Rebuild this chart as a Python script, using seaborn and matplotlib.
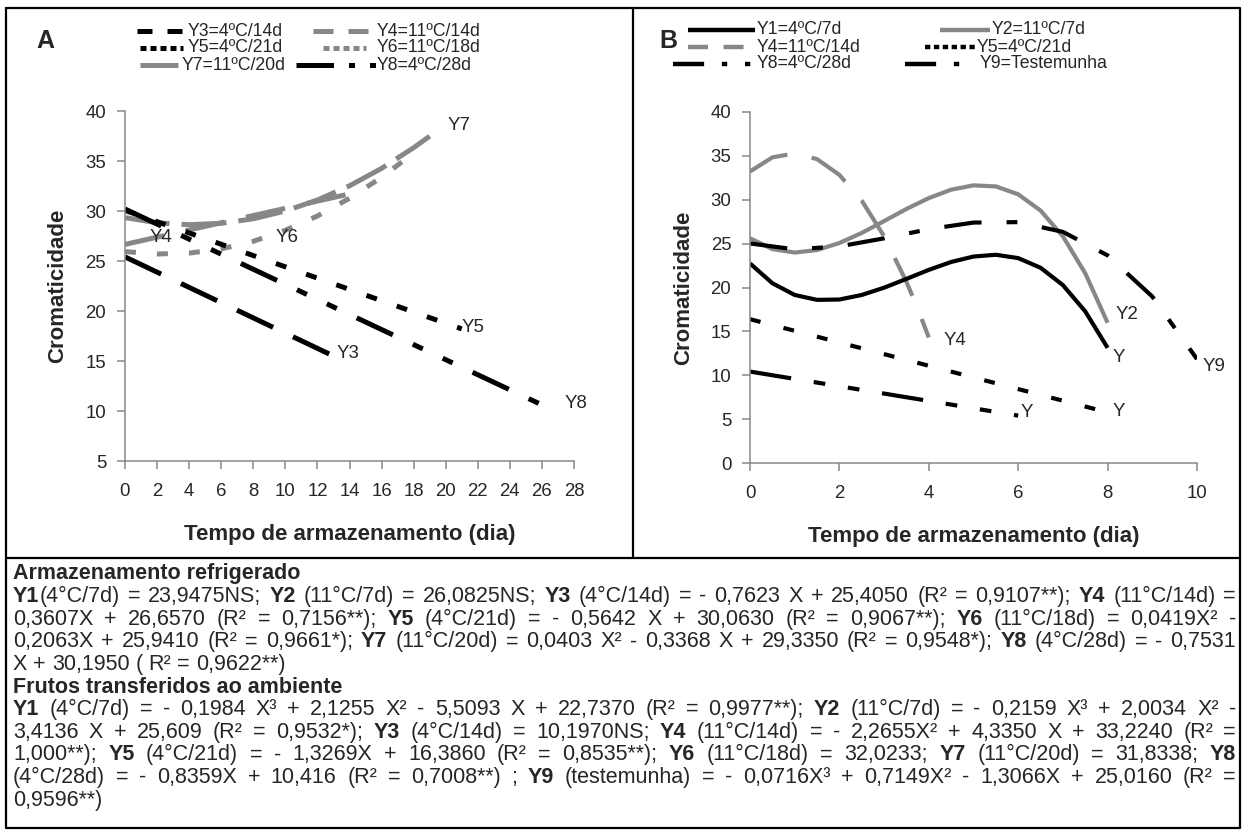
import re
import matplotlib
matplotlib.use("Agg")
import matplotlib.pyplot as plt
import seaborn as sns
from matplotlib.lines import Line2D

sns.set_theme(style="ticks")
plt.rcParams["font.family"] = ["Liberation Sans", "DejaVu Sans"]

W, H = 1246, 834
GRAY = "#878787"

# ---- panel A: armazenamento refrigerado
a_y3_x = [0, 13]
a_y3 = [25.41, 15.50]
a_y4_x = [0, 14]
a_y4 = [26.66, 31.71]
a_y5_x = [0, 21]
a_y5 = [30.06, 18.21]
a_y6_x = [0, 2, 4, 6, 8, 10, 12, 14, 16, 18]
a_y6 = [25.94, 25.70, 25.79, 26.21, 26.97, 28.07, 29.50, 31.27, 33.37, 35.80]
a_y7_x = [0, 2, 4, 6, 8, 10, 12, 14, 16, 18, 19]
a_y7 = [29.34, 28.82, 28.63, 28.77, 29.22, 30.00, 31.10, 32.52, 34.26, 36.33, 37.48]
a_y8_x = [0, 27]
a_y8 = [30.20, 9.86]

# ---- panel B: frutos transferidos ao ambiente
b_days = [0, 0.5, 1, 1.5, 2, 2.5, 3, 3.5, 4, 4.5, 5, 5.5, 6, 6.5, 7, 7.5, 8]
b_y1 = [22.74, 20.49, 19.15, 18.59, 18.63, 19.15, 19.98, 20.98, 22.01,
        22.91, 23.53, 23.73, 23.35, 22.25, 20.27, 17.28, 13.12]
b_y2 = [25.61, 24.38, 23.98, 24.27, 25.07, 26.22, 27.57, 28.95, 30.19,
        31.15, 31.64, 31.52, 30.62, 28.77, 25.83, 21.62, 15.98]
b_y4_x = [0, 0.5, 1, 1.5, 2, 2.5, 3, 3.5, 3.75, 4]
b_y4 = [33.22, 34.83, 35.29, 34.63, 32.83, 29.90, 25.84, 20.64, 17.62, 14.31]
b_y5_x = [0, 8]
b_y5 = [16.39, 5.77]
b_y8_x = [0, 6]
b_y8 = [10.42, 5.40]
b_y9_x = [0, 1, 2, 3, 4, 5, 6, 7, 8, 9, 10]
b_y9 = [25.02, 24.35, 24.69, 25.60, 26.65, 27.40, 27.45, 26.34, 23.66, 18.97, 11.84]

text_lines = [
    "[Armazenamento refrigerado]",
    "[Y1](4°C/7d) = 23,9475NS; [Y2] (11°C/7d) = 26,0825NS; [Y3] (4°C/14d) = - 0,7623 X + 25,4050 (R² = 0,9107**); [Y4] (11°C/14d) =",
    "0,3607X + 26,6570 (R² = 0,7156**); [Y5] (4°C/21d) = - 0,5642 X + 30,0630 (R² = 0,9067**); [Y6] (11°C/18d) = 0,0419X² -",
    "0,2063X + 25,9410 (R² = 0,9661*); [Y7] (11°C/20d) = 0,0403 X² - 0,3368 X + 29,3350 (R² = 0,9548*); [Y8] (4°C/28d) = - 0,7531",
    "X + 30,1950 ( R² = 0,9622**)",
    "[Frutos transferidos ao ambiente]",
    "[Y1] (4°C/7d) = - 0,1984 X³ + 2,1255 X² - 5,5093 X + 22,7370 (R² = 0,9977**); [Y2] (11°C/7d) = - 0,2159 X³ + 2,0034 X² -",
    "3,4136 X + 25,609 (R² = 0,9532*); [Y3] (4°C/14d) = 10,1970NS; [Y4] (11°C/14d) = - 2,2655X² + 4,3350 X + 33,2240 (R² =",
    "1,000**); [Y5] (4°C/21d) = - 1,3269X + 16,3860 (R² = 0,8535**); [Y6] (11°C/18d) = 32,0233; [Y7] (11°C/20d) = 31,8338; [Y8]",
    "(4°C/28d) = - 0,8359X + 10,416 (R² = 0,7008**) ; [Y9] (testemunha) = - 0,0716X³ + 0,7149X² - 1,3066X + 25,0160 (R² =",
    "0,9596**)",
]
justified = [False, True, True, True, False, False, True, True, True, True, False]

fig = plt.figure(figsize=(W / 100, H / 100), dpi=100)
fig.patch.set_facecolor("white")


def fx(x):
    return x / W


def fy(y):
    return 1 - y / H


def px_axes(left, top, right, bottom):
    return fig.add_axes([fx(left), fy(bottom), (right - left) / W, (bottom - top) / H])


def draw(ax, xs, ys, color, lw, dash=None):
    ls = "-" if dash is None else (0, dash)
    sns.lineplot(x=xs, y=ys, color=color, lw=lw, ls=ls, ax=ax, sort=False,
                 estimator=None, dash_capstyle="butt", solid_capstyle="butt")


def style_axis(ax, ylabel_x):
    sns.despine(ax=ax)
    for s in ["left", "bottom"]:
        ax.spines[s].set_color(GRAY)
        ax.spines[s].set_linewidth(1.1)
    ax.tick_params(axis="x", length=6, width=1.1, color=GRAY, pad=9.5, labelsize=13.4)
    ax.tick_params(axis="y", length=6, width=1.1, color=GRAY, pad=7.5, labelsize=13.4)
    ax.set_xlabel("Tempo de armazenamento (dia)", fontsize=16, fontweight="bold")
    ax.set_ylabel("Cromaticidade", fontsize=16, fontweight="bold")
    ax.xaxis.label.set_va("center")
    ax.yaxis.label.set_va("center")
    ax.xaxis.set_label_coords(0.5, -0.21)
    ax.yaxis.set_label_coords(ylabel_x, 0.5)
    ax.grid(False)


# ---------------- panel A
ax_a = px_axes(125, 111, 574, 461)
lwa = 3.6
draw(ax_a, a_y7_x, a_y7, GRAY, lwa, (9, 2.4))
draw(ax_a, a_y4_x, a_y4, GRAY, lwa, (8, 4.4))
draw(ax_a, a_y6_x, a_y6, GRAY, lwa, (2.2, 4.2))
draw(ax_a, a_y3_x, a_y3, "black", lwa, (8, 4.4))
draw(ax_a, a_y5_x, a_y5, "black", lwa, (2.2, 4.2))
draw(ax_a, a_y8_x, a_y8, "black", lwa, (8, 4.4, 2.2, 4.4, 2.2, 4.4))
ax_a.set_xlim(0, 28)
ax_a.set_ylim(5, 40)
ax_a.set_xticks(range(0, 29, 2))
ax_a.set_yticks(range(5, 41, 5))
style_axis(ax_a, -0.151)
for name, x, y in [("Y7", 20.1, 38.6), ("Y4", 1.5, 27.3), ("Y6", 9.4, 27.3),
                   ("Y5", 21.0, 18.3), ("Y3", 13.2, 15.7), ("Y8", 27.4, 10.8)]:
    ax_a.text(x, y, name, fontsize=13.4, va="center", ha="left")

# ---------------- panel B
ax_b = px_axes(750, 112, 1197, 463)
lwb = 3.0
draw(ax_b, b_y4_x, b_y4, GRAY, lwb, (10, 6))
draw(ax_b, b_days, b_y2, GRAY, lwb)
draw(ax_b, b_days, b_y1, "black", lwb)
draw(ax_b, b_y5_x, b_y5, "black", lwb, (2.6, 5.7))
draw(ax_b, b_y8_x, b_y8, "black", lwb, (10, 5.5, 2.8, 5.5, 2.8, 5.5))
draw(ax_b, b_y9_x, b_y9, "black", lwb, (9, 6, 2.6, 6))
ax_b.set_xlim(0, 10)
ax_b.set_ylim(0, 40)
ax_b.set_xticks(range(0, 11, 2))
ax_b.set_yticks(range(0, 41, 5))
style_axis(ax_b, -0.148)
for name, x, y in [("Y2", 8.17, 16.95), ("Y4", 4.33, 14.0), ("Y", 8.1, 12.0),
                   ("Y9", 10.12, 11.0), ("Y", 6.05, 5.7), ("Y", 8.1, 5.9)]:
    ax_b.text(x, y, name, fontsize=13.4, va="center", ha="left")


# ---------------- legends (drawn as proxies, Excel style)
def legend_entry(x1, x2, y, color, lw, dash, label, tx):
    ln = Line2D([fx(x1), fx(x2)], [fy(y), fy(y)], transform=fig.transFigure,
                color=color, lw=lw, solid_capstyle="butt", dash_capstyle="butt")
    if dash:
        ln.set_dashes(dash)
    fig.add_artist(ln)
    fig.text(fx(tx), fy(y), label, fontsize=12.7, va="center", ha="left")


legend_entry(137, 183, 31, "black", 3.6, (3, 3), "Y3=4ºC/14d", 188)
legend_entry(313, 368, 31, GRAY, 3.6, (4, 3), "Y4=11ºC/14d", 377)
legend_entry(140, 183, 48, "black", 3.6, (1.2, 0.8), "Y5=4ºC/21d", 188)
legend_entry(323, 366, 48, GRAY, 3.6, (1.2, 0.8), "Y6=11ºC/18d", 377)
legend_entry(140, 178, 65, GRAY, 3.6, None, "Y7=11ºC/20d", 182)
legend_entry(296, 376, 65, "black", 3.6, (7.5, 3, 1.2, 3, 1.2, 3), "Y8=4ºC/28d", 377)

legend_entry(688, 755, 30, "black", 3.2, None, "Y1=4ºC/7d", 757)
legend_entry(940, 990, 30, GRAY, 3.2, None, "Y2=11ºC/7d", 992)
legend_entry(688, 745, 47, GRAY, 3.2, (4.5, 3.5), "Y4=11ºC/14d", 757)
legend_entry(925, 975, 47, "black", 3.2, (1.2, 0.8), "Y5=4ºC/21d", 977)
legend_entry(673, 752, 64, "black", 3.2, (7, 4, 1.2, 4, 1.2, 4), "Y8=4ºC/28d", 757)
legend_entry(905, 965, 64, "black", 3.2, (7, 4, 1.2, 4), "Y9=Testemunha", 980)

fig.text(fx(45), fy(41), "A", fontsize=18, fontweight="bold", ha="center", va="center")
fig.text(fx(668), fy(41), "B", fontsize=18, fontweight="bold", ha="center", va="center")

# ---------------- frame
for xs, ys in [([6, 1240, 1240, 6, 6], [8, 8, 828, 828, 8]),
               ([633, 633], [8, 558]), ([6, 1240], [558, 558])]:
    fig.add_artist(Line2D([fx(v) for v in xs], [fy(v) for v in ys],
                          transform=fig.transFigure, color="black", lw=1.6))

# ---------------- equations block, justified like the original caption
TEXT_LEFT, TEXT_RIGHT = 13, 1236
FS = 15.5
PITCH = 22.6
renderer = fig.canvas.get_renderer()


def width_of(s, bold=False):
    t = fig.text(0, 0, s, fontsize=FS, fontweight="bold" if bold else "normal")
    w = t.get_window_extent(renderer).width
    t.remove()
    return w


space_w = width_of("x x") - width_of("xx")

y = 574
for i, (line, just) in enumerate(zip(text_lines, justified)):
    if line.startswith("[") and line.endswith("]") and " " in line:
        # bold heading line
        fig.text(fx(TEXT_LEFT), fy(y), line[1:-1], fontsize=FS, va="center",
                 ha="left", fontweight="bold")
        y += PITCH
        continue
    words = []
    for w in line.split(" "):
        parts = []
        for bold, plain in re.findall(r"\[([^\]]*)\]|([^\[]+)", w):
            s = bold or plain
            t = fig.text(0, fy(y), s, fontsize=FS, va="center", ha="left",
                         fontweight="bold" if bold else "normal")
            parts.append((t, t.get_window_extent(renderer).width))
        words.append(parts)
    widths = [sum(pw for _, pw in parts) for parts in words]
    gap = space_w
    if just and len(words) > 1:
        gap = (TEXT_RIGHT - TEXT_LEFT - sum(widths)) / (len(words) - 1)
    x = TEXT_LEFT
    for parts in words:
        for t, pw in parts:
            t.set_x(fx(x))
            x += pw
        x += gap
    y += PITCH

fig.savefig("out.png", dpi=100, facecolor="white")
